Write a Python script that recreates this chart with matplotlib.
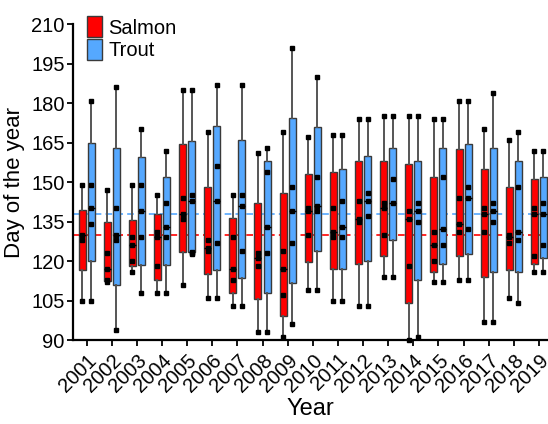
import numpy as np
import matplotlib
matplotlib.use("Agg")
import matplotlib.pyplot as plt
from matplotlib.patches import Patch

plt.rcParams['font.family'] = ['Liberation Sans', 'DejaVu Sans']

years = list(range(2001, 2020))

# Salmon: whisker low, Q1, median, Q3, whisker high, shown points
salmon_low = [105, 112, 116, 108, 111, 106, 103, 93, 91, 109, 105, 103, 114, 90, 112, 113, 97, 106, 116]
salmon_q1 = [116.5, 112.5, 118, 113, 123.5, 115, 108, 105.5, 99, 119.5, 117, 119, 122, 104, 116, 122, 114, 116.5, 119]
salmon_med = [130, 117, 126, 129, 138, 125, 117, 121, 117, 139, 131, 136, 140, 136, 126, 134, 138, 129, 138]
salmon_q3 = [139.5, 135, 135.5, 138, 164.5, 148, 136.5, 142, 146, 153, 154, 158, 158, 157, 152, 162.5, 155, 148, 151]
salmon_high = [149, 147, 149, 145, 185, 169, 145, 161, 169, 167, 168, 174, 175, 175, 174, 181, 170, 166, 162]
salmon_pts = [[130, 128], [123, 117, 113], [129, 126, 120], [131, 129, 118], [144, 138, 136],
              [128, 125, 124], [129, 117, 113], [123, 121, 118], [124, 117, 107], [140, 139, 130],
              [140, 131, 129], [143, 136, 135], [142, 140, 130], [139, 136, 118], [131, 126, 120],
              [144, 134, 131], [140, 138, 131], [130, 129, 127], [140, 138, 122]]

# Trout
trout_low = [105, 94, 108, 108, 122.5, 106, 103, 93, 96, 109, 105, 103, 114, 91, 112, 113, 97, 104, 116]
trout_q1 = [120, 111, 118.5, 118.5, 123.5, 116.5, 113.5, 108, 111.5, 124, 117, 120, 128, 113, 119, 122.5, 116, 116, 121]
trout_med = [140, 130, 139, 133, 143, 143, 141, 133, 139, 141, 133, 143, 142, 139, 132, 144, 139, 131, 138]
trout_q3 = [165, 163, 159.5, 152, 165.5, 171.5, 166, 158, 174.5, 171, 155, 160, 163, 158, 163, 164.5, 163, 158, 152]
trout_high = [181, 186, 170, 162, 185, 187, 187, 163, 201, 190, 168, 174, 175, 175, 174, 181, 184, 169, 162]
trout_pts = [[149, 140, 134], [140, 130, 128], [149, 139, 129], [142, 133, 129], [145, 143, 123.5, 123],
             [156, 143, 127], [145, 141, 124], [154, 133, 123], [148, 139, 127], [152, 141, 139],
             [143, 133, 129], [146, 143, 137], [151, 142], [142, 139, 135], [152, 132, 126],
             [148, 144, 132], [142, 139, 135], [148, 131, 128], [142, 138, 126]]

salmon_mean = 130
trout_mean = 138

salmon_color = '#ff0000'
trout_color = '#55a8ff'

fig = plt.figure(figsize=(5.48, 4.24), dpi=100)
ax = fig.add_axes([0.133, 0.198, 0.867, 0.745])

x = np.arange(1, len(years) + 1)
offset = 0.18
width = 0.28

# reference lines behind the boxes
ax.axhline(salmon_mean, color=salmon_color, ls=(0, (4, 2.5)), lw=1.2, zorder=1)
ax.axhline(trout_mean, color=trout_color, ls=(0, (4, 2.5)), lw=1.2, zorder=1)


def draw_group(pos, low, q1, med, q3, high, pts, color):
    stats = []
    for i in range(len(pos)):
        stats.append({'whislo': low[i], 'q1': q1[i], 'med': med[i],
                      'q3': q3[i], 'whishi': high[i]})
    ax.bxp(stats, positions=pos, widths=width, patch_artist=True,
           showcaps=False, showfliers=False, manage_ticks=False,
           boxprops=dict(facecolor=color, edgecolor='#3a3a3a', linewidth=1.0),
           medianprops=dict(color='black', linewidth=1.0),
           whiskerprops=dict(color='#555555', linewidth=1.4),
           zorder=2)
    # whisker end markers and shown data points
    for i in range(len(pos)):
        ys = [low[i], high[i]] + list(pts[i])
        ax.plot([pos[i]] * len(ys), ys, ls='none', marker='s', ms=3.2,
                color='black', zorder=4, clip_on=False)


draw_group(x - offset, salmon_low, salmon_q1, salmon_med, salmon_q3, salmon_high,
           salmon_pts, salmon_color)
draw_group(x + offset, trout_low, trout_q1, trout_med, trout_q3, trout_high,
           trout_pts, trout_color)

ax.set_xlim(0.455, 19.36)
ax.set_ylim(90, 210)
ax.set_yticks(np.arange(90, 211, 15))
ax.set_xticks(x)
ax.set_xticklabels([str(y) for y in years], rotation=45, ha='right',
                   rotation_mode='anchor', fontsize=14.5)
ax.tick_params(axis='y', labelsize=14.5, width=1.3, length=4, pad=2)
ax.tick_params(axis='x', width=1.3, length=4)

for side in ['top', 'right']:
    ax.spines[side].set_visible(False)
for side in ['left', 'bottom']:
    ax.spines[side].set_linewidth(1.6)

ax.set_ylabel('Day of the year', fontsize=16, labelpad=4)
ax.set_xlabel('Year', fontsize=17, labelpad=2)

handles = [Patch(facecolor=salmon_color, edgecolor='#3a3a3a', label='Salmon'),
           Patch(facecolor=trout_color, edgecolor='#3a3a3a', label='Trout')]
ax.legend(handles=handles, loc='upper left', bbox_to_anchor=(0.0, 1.07),
          frameon=False, fontsize=14.5, handlelength=0.75, handleheight=1.25,
          handletextpad=0.3, labelspacing=0.05, borderaxespad=0.3)

fig.savefig('out.png', dpi=100)
